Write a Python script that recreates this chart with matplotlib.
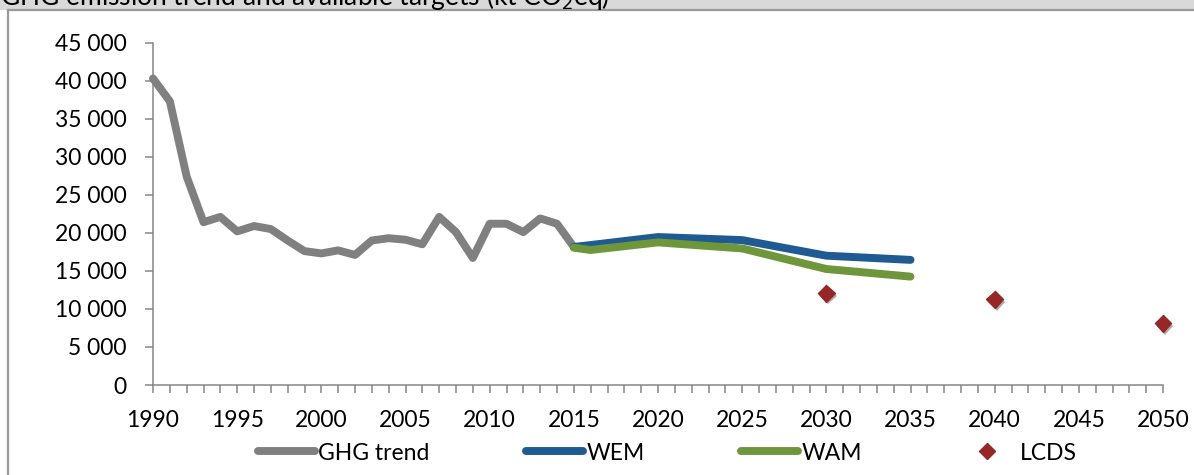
import matplotlib
matplotlib.use("Agg")
import matplotlib.pyplot as plt
from matplotlib.lines import Line2D
from matplotlib.ticker import FuncFormatter, MultipleLocator
import matplotlib.patheffects as pe

# =========================
# Data (kt CO2eq)
# =========================
ghg_years = list(range(1990, 2016))
ghg_values = [40300, 37300, 27400, 21400, 22100, 20200, 20900, 20500, 19000, 17600,
              17300, 17700, 17100, 19000, 19300, 19100, 18500, 22100, 20100, 16700,
              21200, 21200, 20100, 21900, 21200, 18150]

proj_years = [2015, 2016, 2020, 2025, 2030, 2035]
wem_values = [18150, 18400, 19450, 19050, 17000, 16450]
wam_values = [18050, 17750, 18750, 17950, 15250, 14250]

lcds_years = [2030, 2040, 2050]
lcds_values = [12050, 11250, 8100]

title = "GHG emission trend and available targets (kt CO$_2$eq)"
series_labels = ["GHG trend", "WEM", "WAM", "LCDS"]
label_years = list(range(1990, 2051, 5))

# =========================
# Style
# =========================
plt.rcParams['font.family'] = ['Lato', 'DejaVu Sans']
plt.rcParams['mathtext.fontset'] = 'custom'
plt.rcParams['mathtext.rm'] = 'Lato'
FS = 16.5
AXIS_GRAY = "#868686"
C_GHG = "#808080"
C_WEM = "#1F5A93"
C_WAM = "#6E963A"
C_LCDS = "#952726"
LW = 5.7

fig = plt.figure(figsize=(11.94, 4.75), dpi=100)
W, H = 1194, 475

# header strip + outer frame
fig.patches.append(plt.Rectangle((0, 1 - 9.5 / H), 1, 9.5 / H, transform=fig.transFigure,
                                 facecolor="#d9d9d9", edgecolor="none", zorder=0))
fig.lines.append(Line2D([8 / W, 1], [1 - 10 / H, 1 - 10 / H], transform=fig.transFigure,
                        color="#9a9a9a", lw=1.6))
fig.lines.append(Line2D([8 / W, 8 / W], [0, 1 - 10 / H], transform=fig.transFigure,
                        color="#9a9a9a", lw=1.6))
fig.text(0.0, 1 - 4.5 / H, title, fontsize=19, va="baseline", ha="left", color="black")

ax = fig.add_axes([153 / W, 90 / H, (1163 - 153) / W, (385 - 42.7) / H])

ax.plot(ghg_years, ghg_values, color=C_GHG, lw=LW, solid_joinstyle="round",
        solid_capstyle="round", zorder=3)
ax.plot(proj_years, wem_values, color=C_WEM, lw=LW, solid_joinstyle="round",
        solid_capstyle="round", zorder=4)
ax.plot(proj_years, wam_values, color=C_WAM, lw=LW, solid_joinstyle="round",
        solid_capstyle="round", zorder=5)
ax.plot(lcds_years, lcds_values, ls="none", marker="D", ms=8.5, color=C_LCDS,
        zorder=6, path_effects=[pe.SimplePatchShadow(offset=(1.5, -2), alpha=0.35), pe.Normal()])

ax.set_xlim(1990, 2050)
ax.set_ylim(0, 45000)
ax.set_xticks(label_years)
ax.set_xticklabels([str(y) for y in label_years])
ax.xaxis.set_minor_locator(MultipleLocator(1))
ax.yaxis.set_major_locator(MultipleLocator(5000))
ax.yaxis.set_major_formatter(FuncFormatter(lambda v, p: f"{int(v):,}".replace(",", " ")))

for s in ["top", "right"]:
    ax.spines[s].set_visible(False)
for s in ["left", "bottom"]:
    ax.spines[s].set_color(AXIS_GRAY)
    ax.spines[s].set_linewidth(1.1)
    ax.spines[s].set_zorder(1)

ax.tick_params(axis="y", which="major", direction="out", length=6, width=1.1,
               color=AXIS_GRAY, labelsize=FS, pad=13)
ax.tick_params(axis="x", which="both", direction="out", length=6, width=1.1,
               color=AXIS_GRAY, labelsize=FS, pad=12)
for ln in ax.lines:
    ln.set_clip_on(False)

handles = [
    Line2D([], [], color=C_GHG, lw=LW, solid_capstyle="round"),
    Line2D([], [], color=C_WEM, lw=LW, solid_capstyle="round"),
    Line2D([], [], color=C_WAM, lw=LW, solid_capstyle="round"),
    Line2D([], [], ls="none", marker="D", ms=8.5, color=C_LCDS),
]
fig.legend(handles, series_labels, loc="center", bbox_to_anchor=(667 / W, 1 - 453 / H),
           ncol=4, frameon=False, fontsize=FS, handlelength=2.5, handletextpad=0.15,
           columnspacing=4.2, numpoints=1)

fig.savefig("out.png", dpi=100)
